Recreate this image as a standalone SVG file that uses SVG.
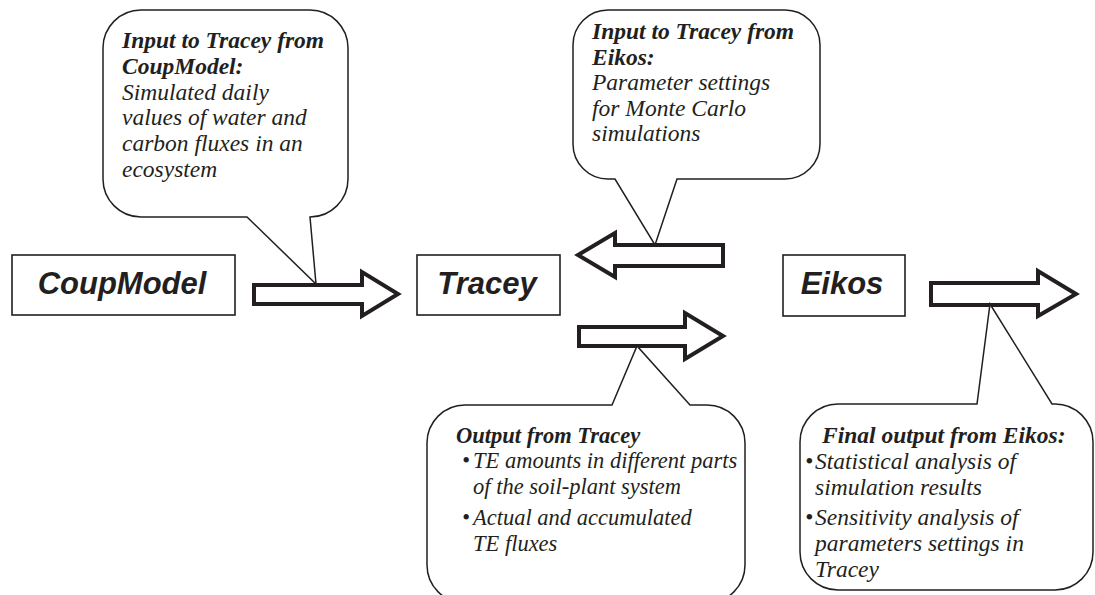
<svg xmlns="http://www.w3.org/2000/svg" width="1095" height="595" viewBox="0 0 1095 595">
<style>
.bg{fill:#fff}
.box{fill:#fff;stroke:#231f20;stroke-width:1.6}
.lbl{font-family:"Liberation Sans",Arial,sans-serif;font-weight:bold;font-style:italic;font-size:31px;fill:#231f20;text-anchor:middle}
.call{fill:#fff;stroke:#231f20;stroke-width:1.5;stroke-linejoin:miter}
.arrow{fill:#fff;stroke:#231f20;stroke-width:4;stroke-linejoin:miter}
.t{font-family:"Liberation Serif","Times New Roman",serif;font-style:italic;font-size:23.5px;fill:#231f20}
.b{font-weight:bold}
.s{font-size:22.5px}
</style>
<rect class="bg" x="0" y="0" width="1095" height="595"/>
<g id="connectors">
<polygon class="arrow" points="254,285 362,285 362,272 398,294 362,316 362,304 254,304"/>
<polygon class="arrow" points="723,245 615,245 615,233 578,255 615,277 615,266 723,266"/>
<polygon class="arrow" points="579,327 685,327 685,313 723,336 685,359 685,346 579,346"/>
<polygon class="arrow" points="931,283 1038,283 1038,271 1076,294 1038,316 1038,305 931,305"/>
</g>
<g id="coupmodel">
<rect class="box" x="12" y="255" width="223" height="60"/>
<text class="lbl" x="122" y="294">CoupModel</text>
</g>
<g id="tracey">
<rect class="box" x="417" y="255" width="143" height="60"/>
<text class="lbl" x="487" y="294">Tracey</text>
</g>
<g id="eikos">
<rect class="box" x="783" y="255" width="122" height="61"/>
<text class="lbl" x="842" y="294">Eikos</text>
</g>
<g id="callout-coupmodel">
<path class="call" d="M141,10 H310 A38,38 0 0 1 348,48 V179 A38,38 0 0 1 310,217 L316,284 L247,217 H141 A38,38 0 0 1 103,179 V48 A38,38 0 0 1 141,10 Z"/>
<text class="t b" x="122" y="48">Input to Tracey from</text>
<text class="t b" x="122" y="74">CoupModel:</text>
<text class="t" x="122" y="99.5">Simulated daily</text>
<text class="t" x="122" y="125">values of water and</text>
<text class="t" x="122" y="151">carbon fluxes in an</text>
<text class="t" x="122" y="176.5">ecosystem</text>
</g>
<g id="callout-eikos-input">
<path class="call" d="M608,10 H785 A35,35 0 0 1 820,45 V144 A35,35 0 0 1 785,179 H677 L655,245 L615,179 H608 A35,35 0 0 1 573,144 V45 A35,35 0 0 1 608,10 Z"/>
<text class="t b" x="592" y="39">Input to Tracey from</text>
<text class="t b" x="592" y="64.5">Eikos:</text>
<text class="t" x="592" y="90">Parameter settings</text>
<text class="t" x="592" y="115.5">for Monte Carlo</text>
<text class="t" x="592" y="141">simulations</text>
</g>
<g id="callout-tracey-output">
<path class="call" d="M465,405 H612 L637,346 L690,405 H707 A38,38 0 0 1 745,443 V565 A38,38 0 0 1 707,603 H465 A38,38 0 0 1 427,565 V443 A38,38 0 0 1 465,405 Z"/>
<text class="t b s" x="456" y="443">Output from Tracey</text>
<text class="t s" x="462" y="468">•</text>
<text class="t s" x="473" y="468">TE amounts in different parts</text>
<text class="t s" x="473" y="494">of the soil-plant system</text>
<text class="t s" x="462" y="525">•</text>
<text class="t s" x="473" y="525">Actual and accumulated</text>
<text class="t s" x="473" y="551">TE fluxes</text>
</g>
<g id="callout-eikos-output">
<path class="call" d="M838,404 H977 L990,304 L1052,404 H1055 A38,38 0 0 1 1093,442 V552 A38,38 0 0 1 1055,590 H838 A38,38 0 0 1 800,552 V442 A38,38 0 0 1 838,404 Z"/>
<text class="t b" x="822" y="443">Final output from Eikos:</text>
<text class="t" x="805" y="469">•</text>
<text class="t" x="815" y="469">Statistical analysis of</text>
<text class="t" x="815" y="495">simulation results</text>
<text class="t" x="805" y="525">•</text>
<text class="t" x="815" y="525">Sensitivity analysis of</text>
<text class="t" x="815" y="551">parameters settings in</text>
<text class="t" x="815" y="577">Tracey</text>
</g>
</svg>
